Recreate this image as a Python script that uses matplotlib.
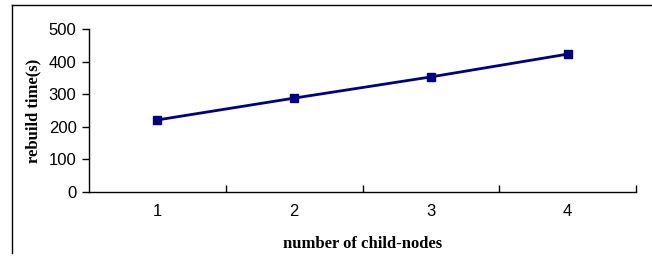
import matplotlib
matplotlib.use("Agg")
import matplotlib.pyplot as plt
from matplotlib.lines import Line2D

categories = [1, 2, 3, 4]
rebuild_time = [221, 288, 353, 423]
y_ticks = [0, 100, 200, 300, 400, 500]

W, H = 652, 257
fig = plt.figure(figsize=(W / 100, H / 100), dpi=100)
ax = fig.add_axes([89 / W, (H - 192) / H, 547 / W, 163 / H])

ax.plot(categories, rebuild_time, color="#000080", linewidth=2,
        marker="s", markersize=5.5, markerfacecolor="#000080",
        markeredgecolor="#000080")

ax.set_xlim(0.5, 4.5)
ax.set_ylim(0, 500)
ax.set_yticks(y_ticks)
ax.set_xticks(categories)
ax.set_xticks([1.5, 2.5, 3.5, 4.5], minor=True)
ax.tick_params(axis="x", which="major", length=0, pad=9,
               labelsize=12)
ax.tick_params(axis="x", which="minor", direction="in", length=5,
               width=1, color="black")
ax.tick_params(axis="y", direction="out", length=5, width=1,
               labelsize=12, pad=4)
for lbl in ax.get_xticklabels() + ax.get_yticklabels():
    lbl.set_fontfamily("Liberation Sans")

ax.spines["top"].set_visible(False)
ax.spines["right"].set_visible(False)
ax.spines["left"].set_linewidth(1)
ax.spines["bottom"].set_linewidth(1)

ax.set_xlabel("number of child-nodes", fontfamily="Liberation Serif",
              fontweight="bold", fontsize=12, labelpad=12)
ax.set_ylabel("rebuild time(s)", fontfamily="Liberation Serif",
              fontweight="bold", fontsize=12, labelpad=5)

# outer frame lines (top and left)
fig.add_artist(Line2D([12 / W, 652 / W], [(H - 5) / H, (H - 5) / H],
                      transform=fig.transFigure, color="black", linewidth=1))
fig.add_artist(Line2D([12 / W, 12 / W], [(H - 5) / H, (H - 253) / H],
                      transform=fig.transFigure, color="black", linewidth=1))

fig.savefig("out.png", dpi=100)
